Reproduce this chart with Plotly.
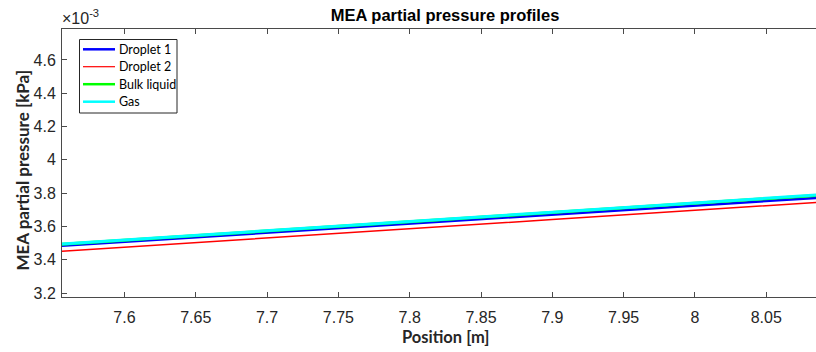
import plotly.graph_objects as go

# Position [m]
position = [7.55, 7.60, 7.70, 7.80, 7.90, 8.00, 8.09]
# MEA partial pressure, in units of 1e-3 kPa
droplet1 = [3.481, 3.508, 3.562, 3.616, 3.671, 3.725, 3.774]
droplet2 = [3.448, 3.475, 3.531, 3.586, 3.641, 3.697, 3.747]
bulk_liquid = [3.489, 3.516, 3.572, 3.628, 3.683, 3.739, 3.789]
gas = [3.491, 3.518, 3.574, 3.630, 3.685, 3.741, 3.791]

series_names = ["Droplet 1", "Droplet 2", "Bulk liquid", "Gas"]
series_values = [droplet1, droplet2, bulk_liquid, gas]
series_colors = ["#0000ff", "#ff0000", "#00ff00", "#00ffff"]
series_widths = [2.5, 1.5, 3, 3]
legend_widths = [2.5, 1.2, 2.5, 2.5]

x_ticks = [7.6, 7.65, 7.7, 7.75, 7.8, 7.85, 7.9, 7.95, 8.0, 8.05]
x_tick_labels = ["7.6", "7.65", "7.7", "7.75", "7.8", "7.85", "7.9", "7.95", "8", "8.05"]
y_ticks = [3.2, 3.4, 3.6, 3.8, 4.0, 4.2, 4.4, 4.6]
y_tick_labels = ["3.2", "3.4", "3.6", "3.8", "4", "4.2", "4.4", "4.6"]

W, H = 816, 352
L, R, T, B = 62, 0, 29, 55
PW, PH = W - L - R, H - T - B


def px(x):
    return (x - L) / PW


def py(y):
    return (H - B - y) / PH


fig = go.Figure()
for name, vals, col, w in zip(series_names, series_values, series_colors, series_widths):
    fig.add_trace(go.Scatter(x=position, y=vals, mode="lines", name=name,
                             line=dict(color=col, width=w), showlegend=False))

axcol = "#4a4a4a"
lab_font = "Lato, Open Sans, sans-serif"
fig.update_layout(
    width=W, height=H,
    margin=dict(l=L, r=R, t=T, b=B),
    paper_bgcolor="white", plot_bgcolor="white",
    font=dict(family="Liberation Sans, Arial, sans-serif", color="#262626"),
    title=dict(text="<b>MEA partial pressure profiles</b>", x=445 / W,
               xanchor="center", y=1 - 15 / H, yanchor="middle",
               font=dict(size=16.5, color="black")),
    showlegend=False,
)
fig.update_xaxes(range=[7.5562, 8.0849], tickvals=x_ticks, ticktext=x_tick_labels,
                 ticks="inside", ticklen=5, tickcolor=axcol, showline=True,
                 linecolor=axcol, linewidth=1, mirror="ticks", showgrid=False,
                 zeroline=False, tickfont=dict(size=16, color="#262626"),
                 ticklabelstandoff=6)
fig.update_yaxes(range=[3.176, 4.786], tickvals=y_ticks, ticktext=y_tick_labels,
                 ticks="inside", ticklen=5, tickcolor=axcol, showline=True,
                 linecolor=axcol, linewidth=1, mirror=False, showgrid=False,
                 zeroline=False, tickfont=dict(size=16, color="#262626"),
                 ticklabelstandoff=2)

# axis titles
fig.add_annotation(text="<b>Position [m]</b>", xref="paper", yref="paper",
                   x=px(445), y=py(337), xanchor="center", yanchor="middle",
                   showarrow=False,
                   font=dict(family=lab_font, size=16.5, color="#262626"))
fig.add_annotation(text="<b>MEA partial pressure [kPa]</b>", xref="paper", yref="paper",
                   x=px(22), y=py(170.5), xanchor="center", yanchor="middle",
                   textangle=-90, showarrow=False,
                   font=dict(family=lab_font, size=17, color="#262626"))
fig.add_annotation(text="×10<sup>-3</sup>", xref="paper", yref="paper", x=0, y=1,
                   xanchor="left", yanchor="bottom", showarrow=False, yshift=0,
                   xshift=-2, font=dict(size=16, color="#262626"))

# legend box drawn as in the reference (tight MATLAB-style spacing)
fig.add_shape(type="rect", xref="paper", yref="paper",
              x0=px(79.5), x1=px(177), y0=py(113), y1=py(39.5),
              line=dict(color="#262626", width=1), fillcolor="white", layer="above")
rows_y = [49.3, 66.7, 84.2, 101.7]
for name, col, w, ry in zip(series_names, series_colors, legend_widths, rows_y):
    fig.add_shape(type="line", xref="paper", yref="paper",
                  x0=px(83), x1=px(115), y0=py(ry), y1=py(ry),
                  line=dict(color=col, width=w), layer="above")
    fig.add_annotation(text=name, xref="paper", yref="paper", x=px(116.5), y=py(ry),
                       xanchor="left", yanchor="middle", showarrow=False,
                       font=dict(family=lab_font, size=12.5, color="black"))

fig.write_html("out.html")
